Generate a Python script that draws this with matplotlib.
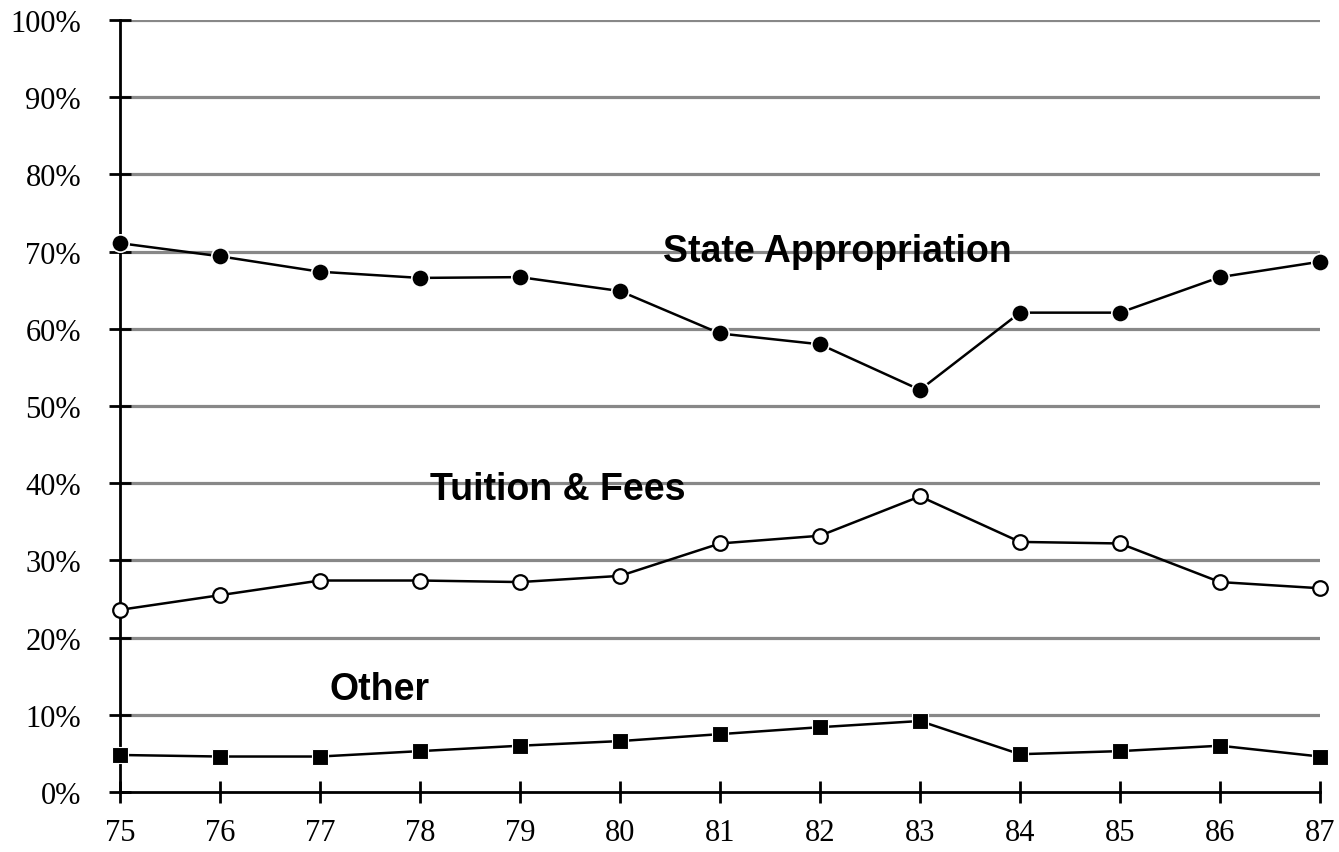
import matplotlib
matplotlib.use("Agg")
import matplotlib.pyplot as plt

# revenue share by source, fiscal years 75-87 (percent)
years = [75, 76, 77, 78, 79, 80, 81, 82, 83, 84, 85, 86, 87]
state_appropriation = [71.1, 69.4, 67.4, 66.6, 66.7, 64.9, 59.4, 58.0, 52.1, 62.1, 62.1, 66.7, 68.7]
tuition_fees = [23.6, 25.5, 27.4, 27.4, 27.2, 28.0, 32.2, 33.2, 38.3, 32.4, 32.2, 27.2, 26.4]
other = [4.8, 4.6, 4.6, 5.3, 6.0, 6.6, 7.5, 8.4, 9.2, 4.9, 5.3, 6.0, 4.6]

y_ticks = [0, 10, 20, 30, 40, 50, 60, 70, 80, 90, 100]
y_tick_labels = ["0%", "10%", "20%", "30%", "40%", "50%", "60%", "70%", "80%", "90%", "100%"]

fig = plt.figure(figsize=(13.39, 8.53), dpi=100)
ax = fig.add_axes([0.0896, 0.0703, 0.8962, 0.9050])

# horizontal grid in grey
for yv in y_ticks[1:]:
    ax.axhline(yv, color="#888888", lw=2.3, zorder=1)

ax.plot(years, state_appropriation, color="black", lw=1.8, marker="o", markersize=12.5,
        markerfacecolor="black", markeredgecolor="white", markeredgewidth=1.2,
        clip_on=False, zorder=3)
ax.plot(years, tuition_fees, color="black", lw=1.8, marker="o", markersize=10.5,
        markerfacecolor="white", markeredgecolor="black", markeredgewidth=1.6,
        clip_on=False, zorder=3)
ax.plot(years, other, color="black", lw=1.8, marker="s", markersize=11.5,
        markerfacecolor="black", markeredgecolor="white", markeredgewidth=0.8,
        clip_on=False, zorder=3)

lbl = dict(fontfamily="Liberation Sans", fontweight="bold", fontsize=27, va="center", zorder=4)
ax.text(80.43, 70.1, "State Appropriation", **lbl)
ax.text(78.1, 39.2, "Tuition & Fees", **lbl)
ax.text(77.1, 13.3, "Other", **lbl)

ax.set_xlim(75, 87)
ax.set_ylim(0, 100)
ax.set_xticks(years)
ax.set_xticklabels([str(y) for y in years])
ax.set_yticks(y_ticks)
ax.set_yticklabels(y_tick_labels)

for s in ["top", "right"]:
    ax.spines[s].set_visible(False)
for s in ["left", "bottom"]:
    ax.spines[s].set_linewidth(2.0)
    ax.spines[s].set_zorder(2)

ax.tick_params(axis="both", direction="inout", length=16, width=2.0, labelsize=22)
ax.tick_params(axis="y", pad=20)
ax.tick_params(axis="x", pad=11)
for t in ax.get_xticklabels() + ax.get_yticklabels():
    t.set_fontfamily("Liberation Serif")

fig.savefig("out.png", dpi=100)
